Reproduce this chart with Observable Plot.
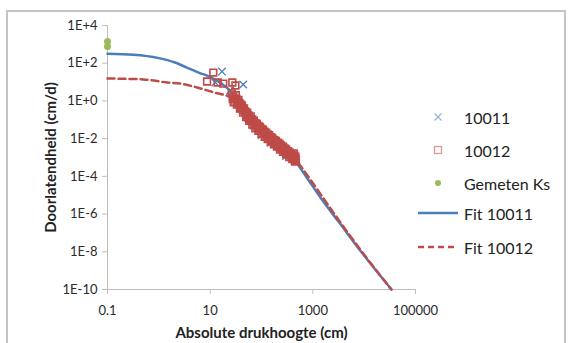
<!DOCTYPE html>
<html><head><meta charset="utf-8">
<script src="https://cdn.jsdelivr.net/npm/d3@7"></script>
<script src="https://cdn.jsdelivr.net/npm/@observablehq/plot@0.6"></script>
<style>
body{margin:0;background:#fff;width:568px;height:343px;overflow:hidden;position:relative;font-family:Lato,"Open Sans",sans-serif;}
#frame{position:absolute;left:6px;top:10px;width:560px;height:360px;border:2px solid #c4c4c4;box-sizing:border-box;}
#chart{position:absolute;left:0;top:0;}
.leg{position:absolute;left:416px;height:20px;display:flex;align-items:center;font-size:16px;color:#222;}
.leg svg{margin-right:4px;}
</style></head>
<body>
<div id="frame"></div>
<div id="chart"></div>
<div id="legend"></div>
<script>
// Series names and colours
const seriesNames = ["10011", "10012", "Gemeten Ks", "Fit 10011", "Fit 10012"];
const blue = "#4a7ebb", red = "#be4b48", green = "#9bbb59";

// Tick values / labels
const xTicks = [0.1, 10, 1000, 100000];
const xTickLabels = ["0.1", "10", "1000", "100000"];
const yTicks = [1e-10, 1e-8, 1e-6, 1e-4, 1e-2, 1, 1e2, 1e4];
const yTickLabels = ["1E-10", "1E-8", "1E-6", "1E-4", "1E-2", "1E+0", "1E+2", "1E+4"];

// Fit 10011 (pressure head cm, conductivity cm/d)
const fit10011X = [0.1, 0.32, 1, 2, 3.5, 6.3, 8.7, 16, 25, 40, 60, 100, 200, 490, 760, 1550, 3160, 10000, 34000];
const fit10011Y = [316, 282, 186, 112, 59, 30, 22, 9, 3.2, 0.45, 0.08, 0.014, 0.0025, 0.00048, 8.7e-5, 5.2e-6, 4e-7, 6.3e-9, 1e-10];

// Fit 10012
const fit10012X = [0.1, 0.5, 1.46, 2.6, 6.5, 12, 25, 40, 60, 100, 200, 490, 760, 1550, 3160, 10000, 34000];
const fit10012Y = [15.5, 13.8, 9.5, 8.3, 4.6, 2.8, 1.5, 0.32, 0.1, 0.02, 0.0032, 0.00063, 1.26e-4, 7.9e-6, 5e-7, 7e-9, 1e-10];

// Measured 10011
const obs10011X = [17, 44, 12.6, 24.5, 50, 70, 100, 150, 200, 300];
const obs10011Y = [36, 7.4, 9.5, 3.5, 0.15, 0.05, 0.015, 0.006, 0.004, 0.0012];

// Measured 10012
const obs10012X = [11.5, 8.7, 14, 18, 27, 31,
  26.3, 28.2, 30.2, 31.6, 33.9, 35.5, 38.0, 39.8, 41.7, 44.7, 47.9, 50.1, 53.7, 56.2, 60.3, 63.1, 67.6, 72.4, 77.6, 83.2, 89.1, 95.5,
  102, 110, 117, 126, 135, 145, 158, 170, 182, 200, 214, 229, 251, 269, 288, 316, 339, 363, 389, 417, 437, 447, 457,
  27.5, 29.5, 32.4, 34.7, 37.2, 39.8, 42.7, 45.7, 49.0, 52.5, 56.2, 61.7, 66.1, 70.8, 75.9, 81.3, 87.1, 93.3, 100, 107, 115, 123,
  132, 141, 151, 162, 178, 191, 209, 224, 240, 263, 282, 302, 331, 355, 380, 407, 427, 457, 468,
  28.8, 33.1, 38.0, 43.7, 50.1, 57.5, 66.1, 75.9, 87.1, 100, 115, 132, 151, 174, 200, 229, 263, 302, 347, 398, 457];
const obs10012Y = [32, 10.7, 9.5, 8.3, 9.5, 6.6,
  2.512, 1.660, 1.259, 1.995, 0.891, 1.122, 0.631, 0.447, 0.562, 0.316, 0.282, 0.200, 0.178, 0.126, 0.112, 0.0891, 0.0794, 0.0562, 0.0501, 0.0398, 0.0355, 0.0282,
  0.0251, 0.0200, 0.0178, 0.0141, 0.0126, 0.0100, 0.00891, 0.00708, 0.00631, 0.00501, 0.00447, 0.00355, 0.00316, 0.00251, 0.00224, 0.00178, 0.00141, 0.00126, 0.00112, 0.000891, 0.00126, 0.000631, 0.000891,
  1.26, 0.891, 1.32, 0.708, 0.794, 0.631, 0.398, 0.398, 0.251, 0.240, 0.166, 0.151, 0.105, 0.0891, 0.0661, 0.0603, 0.0468, 0.0417, 0.0331, 0.0302, 0.0234, 0.0209,
  0.0166, 0.0151, 0.0120, 0.0110, 0.00851, 0.00759, 0.00603, 0.00537, 0.00437, 0.00380, 0.00302, 0.00269, 0.00214, 0.00178, 0.00158, 0.00132, 0.00166, 0.00112, 0.000708,
  0.832, 0.631, 0.398, 0.240, 0.141, 0.0891, 0.0562, 0.0355, 0.0263, 0.0178, 0.0126, 0.00955, 0.00708, 0.00501, 0.00380, 0.00263, 0.00200, 0.00151, 0.00105, 0.000832, 0.000631];

// Gemeten Ks
const ksX = [0.1, 0.1];
const ksY = [1400, 780];

const zip = (xs, ys) => xs.map((x, i) => ({x, y: ys[i]}));
const fitA = zip(fit10011X, fit10011Y), fitB = zip(fit10012X, fit10012Y);
const obsA = zip(obs10011X, obs10011Y), obsB = zip(obs10012X, obs10012Y), ks = zip(ksX, ksY);

const chart = Plot.plot({
  width: 568, height: 343,
  marginLeft: 107, marginRight: 153, marginTop: 25, marginBottom: 54,
  style: {fontFamily: "Lato, 'Open Sans', sans-serif", fontSize: "13px", color: "#2a2a2a", background: "transparent", overflow: "visible"},
  x: {type: "log", domain: [0.1, 100000]},
  y: {type: "log", domain: [1e-10, 1e4]},
  marks: [
    Plot.axisX({ticks: xTicks, tickFormat: d => xTickLabels[xTicks.indexOf(d)], tickSize: 5, tickPadding: 11, stroke: "#bdbdbd",
      label: "Absolute drukhoogte (cm)", labelAnchor: "center", labelOffset: 48, labelArrow: "none"}),
    Plot.axisY({ticks: yTicks, tickFormat: d => yTickLabels[yTicks.indexOf(d)], tickSize: 5, tickPadding: 5, stroke: "#bdbdbd",
      label: "Doorlatendheid (cm/d)", labelAnchor: "center", labelOffset: 62, labelArrow: "none"}),
    Plot.ruleX([0.1], {stroke: "#bdbdbd"}),
    Plot.ruleY([1e-10], {stroke: "#bdbdbd"}),
    Plot.line(fitA, {x: "x", y: "y", stroke: blue, strokeWidth: 2.5, curve: "monotone-x"}),
    Plot.line(fitB, {x: "x", y: "y", stroke: red, strokeWidth: 2.5, strokeDasharray: "7,4", curve: "monotone-x"}),
    Plot.dot(obsA, {x: "x", y: "y", symbol: "times", stroke: blue, r: 3.5, strokeWidth: 1.3}),
    Plot.dot(obsB, {x: "x", y: "y", symbol: "square", stroke: red, fill: "none", r: 3.8, strokeWidth: 1.6}),
    Plot.dot(ks, {x: "x", y: "y", fill: green, r: 3.5})
  ]
});
document.getElementById("chart").appendChild(chart);
d3.select(chart).selectAll("text").filter(function(){ return /Absolute|Doorlatend/.test(this.textContent); })
  .style("font-weight", "bold").style("font-size", "15px").attr("fill", "#222");

// Legend
const legTop = [107, 140, 173, 203, 237];
const leg = document.getElementById("legend");
seriesNames.forEach((name, i) => {
  const d = document.createElement("div");
  d.className = "leg";
  d.style.top = legTop[i] + "px";
  let sw = "";
  if (i === 0) sw = `<svg width="44" height="20"><path d="M18.5,6.5L25.5,13.5M25.5,6.5L18.5,13.5" stroke="#95b3d7" stroke-width="1.3"/></svg>`;
  if (i === 1) sw = `<svg width="44" height="20"><rect x="18.5" y="6.5" width="7" height="7" fill="none" stroke="#d99694" stroke-width="1.3"/></svg>`;
  if (i === 2) sw = `<svg width="44" height="20"><circle cx="22" cy="10" r="3" fill="${green}"/></svg>`;
  if (i === 3) sw = `<svg width="44" height="20"><line x1="2" y1="10" x2="42" y2="10" stroke="${blue}" stroke-width="2.5"/></svg>`;
  if (i === 4) sw = `<svg width="44" height="20"><line x1="2" y1="10" x2="42" y2="10" stroke="${red}" stroke-width="2.5" stroke-dasharray="6,4"/></svg>`;
  d.innerHTML = sw + `<span>${name}</span>`;
  leg.appendChild(d);
});
</script>
</body></html>
